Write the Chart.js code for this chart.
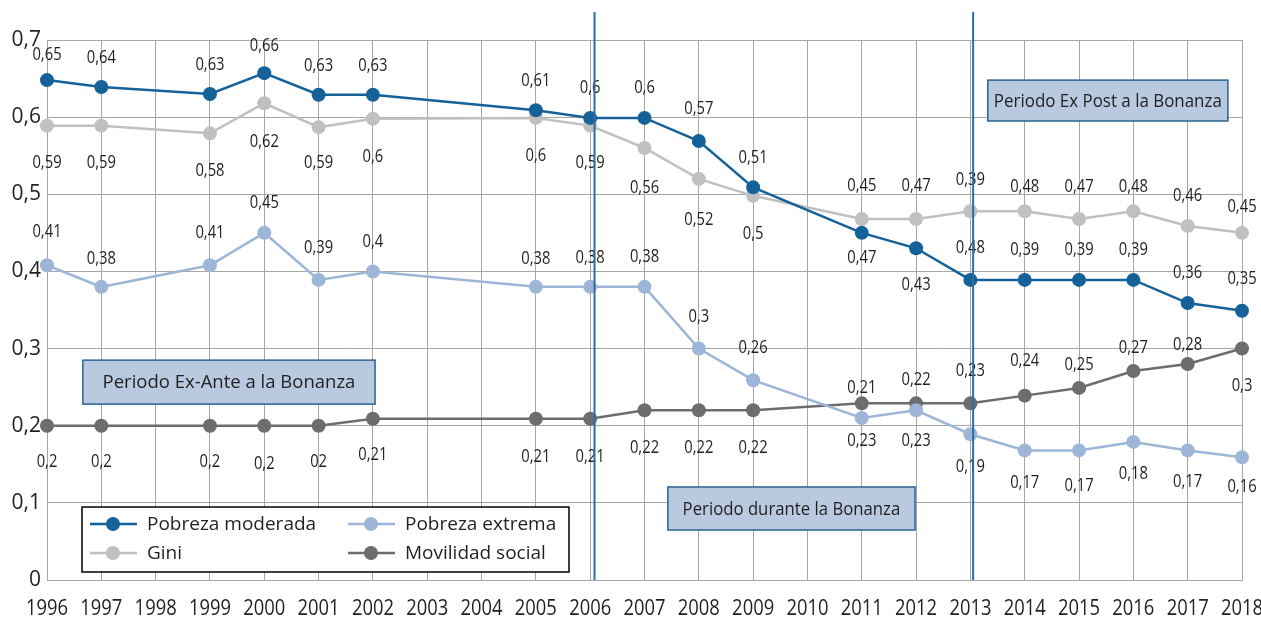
<!DOCTYPE html>
<html lang="es">
<head>
    <meta charset="UTF-8">
    <title>Pobreza, Gini y movilidad social</title>
    <script src="https://cdn.jsdelivr.net/npm/chart.js"></script>
    <style>
        html, body { margin: 0; padding: 0; background: #ffffff; }
        #wrap { width: 1261px; height: 619px; }
    </style>
</head>
<body>
    <div id="wrap"><canvas id="chart" width="1261" height="619"></canvas></div>
    <script>
        // Datos (null = año sin dato)
        const years = ['1996','1997','1998','1999','2000','2001','2002','2003','2004','2005','2006',
                       '2007','2008','2009','2010','2011','2012','2013','2014','2015','2016','2017','2018'];

        const pobrezaModerada = [0.648, 0.639, null, 0.630, 0.657, 0.629, 0.629, null, null, 0.609, 0.599,
                                 0.599, 0.569, 0.509, null, 0.450, 0.430, 0.389, 0.389, 0.389, 0.389, 0.359, 0.349];
        const pobrezaExtrema  = [0.408, 0.380, null, 0.408, 0.450, 0.389, 0.400, null, null, 0.380, 0.380,
                                 0.380, 0.300, 0.259, null, 0.210, 0.220, 0.189, 0.168, 0.168, 0.179, 0.168, 0.159];
        const gini            = [0.589, 0.589, null, 0.579, 0.618, 0.587, 0.598, null, null, 0.599, 0.589,
                                 0.560, 0.520, 0.498, null, 0.468, 0.468, 0.478, 0.478, 0.468, 0.478, 0.459, 0.450];
        const movilidad       = [0.200, 0.200, null, 0.200, 0.200, 0.200, 0.209, null, null, 0.209, 0.209,
                                 0.220, 0.220, 0.220, null, 0.229, 0.229, 0.229, 0.239, 0.249, 0.271, 0.280, 0.300];

        // Etiquetas tal como aparecen en el original
        const modLabels = ['0,65','0,64',null,'0,63','0,66','0,63','0,63',null,null,'0,61','0,6',
                           '0,6','0,57','0,51',null,'0,47','0,43','0,48','0,39','0,39','0,39','0,36','0,35'];
        const extLabels = ['0,41','0,38',null,'0,41','0,45','0,39','0,4',null,null,'0,38','0,38',
                           '0,38','0,3','0,26',null,'0,23','0,23','0,19','0,17','0,17','0,18','0,17','0,16'];
        const giniLabels = ['0,59','0,59',null,'0,58','0,62','0,59','0,6',null,null,'0,6','0,59',
                            '0,56','0,52','0,5',null,'0,45','0,47','0,39','0,48','0,47','0,48','0,46','0,45'];
        const movLabels = ['0,2','0,2',null,'0,2','0,2','02','0,21',null,null,'0,21','0,21',
                           '0,22','0,22','0,22',null,'0,21','0,22','0,23','0,24','0,25','0,27','0,28','0,3'];

        // desplazamiento vertical de cada etiqueta respecto a su punto (px)
        const modOffset  = [-25,-29,0,-29,-27,-29,-29,0,0,-29,-30,-30,-32,-29,0,25,37,-32,-30,-30,-30,-30,-32];
        const extOffset  = [-33,-28,0,-32,-30,-32,-30,0,0,-28,-29,-30,-32,-32,0,23,31,33,32,35,32,31,30];
        const giniOffset = [37,37,0,38,39,36,38,0,0,38,37,40,41,38,0,-33,-33,-31,-24,-32,-24,-30,-26];
        const movOffset  = [36,36,0,36,38,36,36,0,0,38,38,38,38,38,0,-15,-23,-32,-35,-23,-23,-19,37];

        const BLUE = '#15619a', LIGHTBLUE = '#9db5d6', LIGHTGRAY = '#c0c0c0', DARKGRAY = '#6d6d70';
        const SANS = "'Open Sans', sans-serif";

        // cajas de periodo (coordenadas en unidades de eje: índice de categoría / valor)
        const periodBoxes = [
            { text: 'Periodo Ex-Ante a la Bonanza', x0: 0.66, x1: 6.04, y0: 0.285, y1: 0.228, size: 18.5, squeeze: 1 },
            { text: 'Periodo durante la Bonanza', x0: 11.43, x1: 15.98, y0: 0.1206, y1: 0.0648, size: 18, squeeze: 0.93 },
            { text: 'Periodo Ex Post a la Bonanza', x0: 17.32, x1: 21.74, y0: 0.648, y1: 0.595, size: 18, squeeze: 0.94 }
        ];
        const dividers = [10.08, 17.05];

        const series = [
            { label: 'Pobreza moderada', data: pobrezaModerada, color: BLUE, labels: modLabels, offs: modOffset },
            { label: 'Gini', data: gini, color: LIGHTGRAY, labels: giniLabels, offs: giniOffset },
            { label: 'Pobreza extrema', data: pobrezaExtrema, color: LIGHTBLUE, labels: extLabels, offs: extOffset },
            { label: 'Movilidad social', data: movilidad, color: DARKGRAY, labels: movLabels, offs: movOffset }
        ];

        // texto estrecho (la fuente original es condensada)
        function narrowText(ctx, text, x, y, squeeze) {
            ctx.save();
            ctx.translate(x, y);
            ctx.scale(squeeze, 1);
            ctx.fillText(text, 0, 0);
            ctx.restore();
        }

        const overlayPlugin = {
            id: 'overlay',
            afterDatasetsDraw(chart) {
                const ctx = chart.ctx;
                const xs = chart.scales.x, ys = chart.scales.y;
                const area = chart.chartArea;

                // etiquetas del eje X
                ctx.save();
                ctx.fillStyle = '#231f20';
                ctx.font = '21px ' + SANS;
                ctx.textAlign = 'center';
                ctx.textBaseline = 'middle';
                years.forEach((y, i) => narrowText(ctx, y, xs.getPixelForValue(i), area.bottom + 29, 0.875));
                ctx.restore();

                // etiquetas de valores
                ctx.save();
                ctx.fillStyle = '#231f20';
                ctx.font = '18px ' + SANS;
                ctx.textAlign = 'center';
                ctx.textBaseline = 'middle';
                chart.data.datasets.forEach((ds, di) => {
                    const meta = chart.getDatasetMeta(di);
                    meta.data.forEach((pt, i) => {
                        const t = ds.valueLabels[i];
                        if (!t || ds.data[i] == null) return;
                        narrowText(ctx, t, pt.x, pt.y + ds.labelOffsets[i], 0.82);
                    });
                });
                ctx.restore();

                // líneas divisorias
                ctx.save();
                ctx.strokeStyle = '#2f6ea5';
                ctx.lineWidth = 2;
                dividers.forEach(v => {
                    const x = xs.getPixelForValue(v);
                    ctx.beginPath();
                    ctx.moveTo(x, area.top - 28);
                    ctx.lineTo(x, area.bottom);
                    ctx.stroke();
                });
                ctx.restore();

                // cajas de periodo
                periodBoxes.forEach(b => {
                    const x0 = xs.getPixelForValue(b.x0), x1 = xs.getPixelForValue(b.x1);
                    const y0 = ys.getPixelForValue(b.y0), y1 = ys.getPixelForValue(b.y1);
                    ctx.save();
                    ctx.fillStyle = '#b8c9e0';
                    ctx.strokeStyle = '#2a6496';
                    ctx.lineWidth = 1.5;
                    ctx.fillRect(x0, y0, x1 - x0, y1 - y0);
                    ctx.strokeRect(x0, y0, x1 - x0, y1 - y0);
                    ctx.fillStyle = '#231f20';
                    ctx.font = b.size + 'px ' + SANS;
                    ctx.textAlign = 'center';
                    ctx.textBaseline = 'middle';
                    narrowText(ctx, b.text, (x0 + x1) / 2, (y0 + y1) / 2 + 1, b.squeeze);
                    ctx.restore();
                });

                // leyenda
                const lx0 = xs.getPixelForValue(0.644), lx1 = xs.getPixelForValue(9.61);
                const ly0 = ys.getPixelForValue(0.0946), ly1 = ys.getPixelForValue(0.0104);
                ctx.save();
                ctx.fillStyle = '#ffffff';
                ctx.fillRect(lx0, ly0, lx1 - lx0, ly1 - ly0);
                ctx.strokeStyle = '#000000';
                ctx.lineWidth = 1.5;
                ctx.strokeRect(lx0, ly0, lx1 - lx0, ly1 - ly0);
                const order = [0, 2, 1, 3];
                ctx.font = '19px ' + SANS;
                ctx.textBaseline = 'middle';
                order.forEach((di, k) => {
                    const ds = chart.data.datasets[di];
                    const col = k % 2, row = Math.floor(k / 2);
                    const sx = lx0 + 8 + col * 258;
                    const sy = ly0 + 17 + row * 29;
                    ctx.strokeStyle = ds.borderColor;
                    ctx.lineWidth = 2.5;
                    ctx.beginPath();
                    ctx.moveTo(sx, sy);
                    ctx.lineTo(sx + 47, sy);
                    ctx.stroke();
                    ctx.fillStyle = ds.borderColor;
                    ctx.beginPath();
                    ctx.arc(sx + 23, sy, 7, 0, Math.PI * 2);
                    ctx.fill();
                    ctx.fillStyle = '#231f20';
                    ctx.textAlign = 'left';
                    ctx.fillText(ds.label, sx + 57, sy + 1);
                });
                ctx.restore();
            }
        };

        new Chart(document.getElementById('chart'), {
            type: 'line',
            data: {
                labels: years,
                datasets: series.map(s => ({
                    label: s.label,
                    data: s.data,
                    valueLabels: s.labels,
                    labelOffsets: s.offs,
                    borderColor: s.color,
                    backgroundColor: s.color,
                    pointBackgroundColor: s.color,
                    pointBorderColor: s.color,
                    pointRadius: 7,
                    pointBorderWidth: 0,
                    borderWidth: 2.5,
                    tension: 0,
                    spanGaps: true
                }))
            },
            options: {
                responsive: false,
                animation: false,
                layout: { padding: { top: 40, right: 19, left: 0, bottom: 0 } },
                plugins: {
                    legend: { display: false },
                    tooltip: { enabled: false }
                },
                scales: {
                    x: {
                        offset: false,
                        grid: { color: '#a6a6a6', lineWidth: 1, drawTicks: false },
                        border: { color: '#a6a6a6' },
                        ticks: { display: false, autoSkip: false },
                        afterFit(scale) { scale.height = 39; scale.paddingLeft = 0; scale.paddingRight = 0; }
                    },
                    y: {
                        min: 0,
                        max: 0.7,
                        grid: { color: '#a6a6a6', lineWidth: 1, drawTicks: false },
                        border: { color: '#a6a6a6' },
                        ticks: {
                            stepSize: 0.1,
                            color: '#231f20',
                            font: { family: SANS, size: 21 },
                            padding: 6,
                            callback: v => v === 0 ? '0' : v.toFixed(1).replace('.', ',')
                        },
                        afterFit(scale) { scale.width = 47; }
                    }
                }
            },
            plugins: [overlayPlugin]
        });
    </script>
</body>
</html>
